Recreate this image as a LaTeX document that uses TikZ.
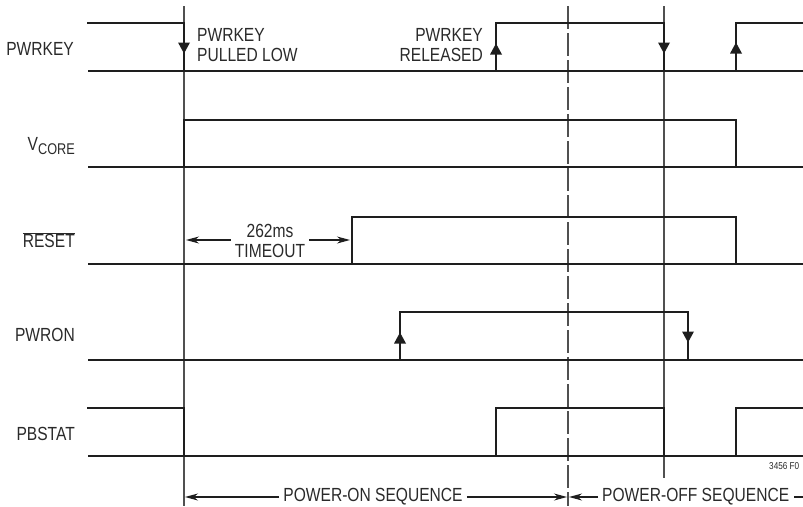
\documentclass[tikz,border=0pt]{standalone}
\usepackage{fontspec}
\setmainfont{Liberation Sans}[FakeStretch=0.82]
\usetikzlibrary{arrows.meta}
\definecolor{sigc}{HTML}{1E1E1E}
\definecolor{txtc}{HTML}{2A2A2A}
\definecolor{gridc}{HTML}{505050}
\begin{document}
\begin{tikzpicture}[x=1pt,y=-1pt,
  sig/.style={line width=2.8pt,draw=sigc,line join=miter,line cap=rect},
  base/.style={line width=2.8pt,draw=sigc},
  vline/.style={line width=1.1pt,draw=gridc},
  dline/.style={line width=1.1pt,draw=gridc,dash pattern=on 23pt off 4pt},
  lbl/.style={anchor=east,inner sep=0pt,text=txtc,font=\fontsize{19}{20}\selectfont},
  note/.style={inner sep=0pt,text=txtc,font=\fontsize{19}{20}\selectfont},
  dim/.style={line width=1.1pt,draw=sigc,-{Stealth[length=13pt,width=7pt]}},
  dnarr/.pic={\fill[sigc] (-6,-5.5) -- (6,-5.5) -- (0,5.5) -- cycle;},
  uparr/.pic={\fill[sigc] (-6,5.5) -- (6,5.5) -- (0,-5.5) -- cycle;}
]
\useasboundingbox (0,0) rectangle (803,506);
% reference lines
\draw[vline] (184,6) -- (184,506);
\draw[dline] (568,6) -- (568,506);
\draw[vline] (664,6) -- (664,478);

% labels
\node[lbl] (lk) at (74,49) {PWRKEY};
\node[lbl] (lv) at (75,146) {V\raisebox{-4pt}{\fontsize{15.5}{15}\selectfont CORE}};
\node[lbl] (lr) at (75,240) {$\overline{\mbox{RESET}}$};
\node[lbl] (lp) at (75,335) {PWRON};
\node[lbl] (lb) at (75,434) {PBSTAT};

% PWRKEY
\draw[base] (88,71) -- (803,71);
\draw[sig] (88,23) -- (184,23) -- (184,71);
\draw[sig] (496,71) -- (496,23) -- (664,23) -- (664,71);
\draw[sig] (736,71) -- (736,23) -- (803,23);
\pic at (184,48) {dnarr};
\pic at (496,49) {uparr};
\pic at (664,48) {dnarr};
\pic at (736,48) {uparr};
\node[note,anchor=west,align=left] (pl) at (197,45) {PWRKEY\\PULLED LOW};
\node[note,anchor=east,align=right] (pr) at (483,45) {PWRKEY\\RELEASED};

% VCORE
\draw[base] (88,167) -- (803,167);
\draw[sig] (184,167) -- (184,120) -- (736,120) -- (736,167);

% RESET
\draw[base] (88,264) -- (803,264);
\draw[sig] (352,264) -- (352,217) -- (736,217) -- (736,264);
\node[note,align=center] (to) at (270,241) {262ms\\TIMEOUT};
\coordinate (tl) at (186,240);
\coordinate (tr) at (350,240);
\draw[dim] (to.west |- tl) ++(-4,0) -- (tl);
\draw[dim] (to.east |- tr) ++(4,0) -- (tr);

% PWRON
\draw[base] (88,360) -- (803,360);
\draw[sig] (400,360) -- (400,312) -- (688,312) -- (688,360);
\pic at (400,338) {uparr};
\pic at (688,337) {dnarr};

% PBSTAT
\draw[base] (88,456) -- (803,456);
\draw[sig] (88,408) -- (184,408) -- (184,456);
\draw[sig] (496,456) -- (496,408) -- (664,408) -- (664,456);
\draw[sig] (736,456) -- (736,408) -- (803,408);

\node[inner sep=0pt,anchor=west,text=txtc,font=\fontsize{10}{10}\selectfont] (fig) at (769,466) {3456 F0};

% sequences
\node[note] (on) at (373,497) {POWER-ON SEQUENCE};
\node[note,anchor=west] (off) at (602,497) {POWER-OFF SEQUENCE};
\coordinate (onl) at (185,497);
\coordinate (onr) at (567,497);
\coordinate (offl) at (569,497);
\coordinate (offr) at (803,497);
\draw[dim] (on.west) ++(-4,0) -- (onl);
\draw[dim] (on.east) ++(4,0) -- (onr);
\draw[dim] (off.west) ++(-4,0) -- (offl);
\draw[line width=1.1pt,draw=sigc] (off.east) ++(5,0) -- (offr);
\end{tikzpicture}
\end{document}
